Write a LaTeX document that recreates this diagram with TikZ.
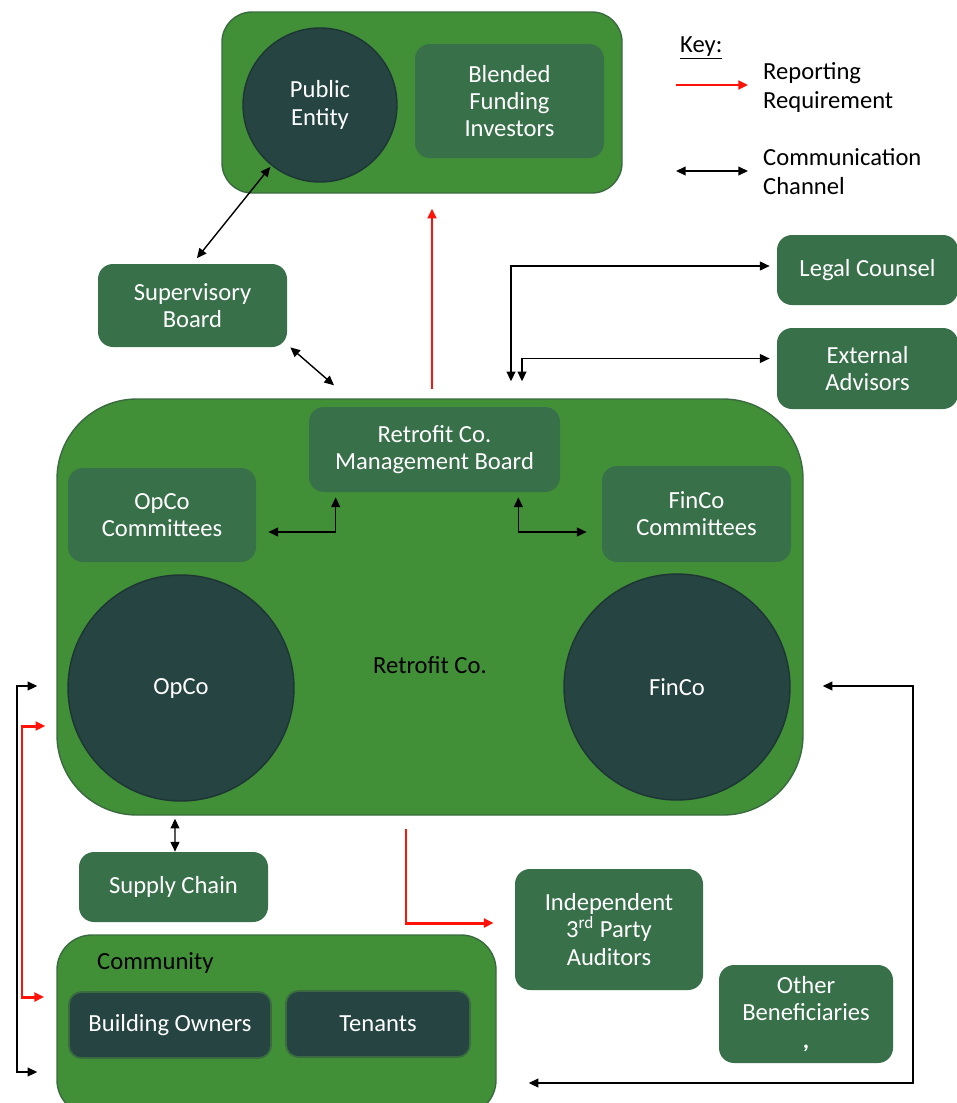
\documentclass[tikz,border=0pt]{standalone}
\usepackage{fontspec}
\setmainfont{Carlito}
\usetikzlibrary{arrows.meta,calc}
\definecolor{outergreen}{HTML}{418F37}
\definecolor{outerline}{HTML}{3A6B40}
\definecolor{boxgreen}{HTML}{38704A}
\definecolor{darkteal}{HTML}{254442}
\definecolor{darkline}{HTML}{1D3534}
\definecolor{keyred}{HTML}{FF1208}
\def\pxu{0.02cm}
\begin{document}
\begin{tikzpicture}[x=0.02cm,y=-0.02cm,
  lbl/.style={font=\fontsize{14}{15.5}\selectfont, align=center},
  container/.style={draw=outerline, line width=0.8pt, fill=outergreen, inner sep=0pt},
  gbox/.style={lbl, rounded corners=0.3cm, fill=boxgreen, text=white, inner sep=0pt},
  dbox/.style={lbl, rounded corners=0.25cm, fill=darkteal, draw=outerline, line width=1pt, text=white, inner sep=0pt},
  dcirc/.style={lbl, circle, fill=darkteal, draw=darkline, line width=0.8pt, text=white, inner sep=0pt},
  tipk/.tip={Triangle[length=5.5pt,width=5pt]},
  comm/.style={tipk-tipk, line width=0.8pt, black},
  rep/.style={-tipk, line width=1.7pt, keyred},
  repboth/.style={tipk-tipk, line width=1.7pt, keyred},
]
\useasboundingbox (0,0) rectangle (957,1103);

% --- top group: public entity and investors
\node[container, rounded corners=0.6cm, minimum width=400*\pxu, minimum height=181*\pxu] (top) at (422,102.5) {};
\node[dcirc, minimum size=154*\pxu] (pub) at (320,105) {Public\\Entity};
\node[gbox, minimum width=189*\pxu, minimum height=114*\pxu] (blend) at (509.5,101) {Blended\\Funding\\Investors};

% --- key
\node[anchor=west, font=\fontsize{14}{16.5}\selectfont] (keyt) at (674,48) {\underline{Key:}};
\coordinate (kr1) at (676,85);
\coordinate (kr2) at (748,85);
\coordinate (kc1) at (676,171);
\coordinate (kc2) at (748,171);
\draw[rep] (kr1) -- (kr2);
\draw[comm] (kc1) -- (kc2);
\node[anchor=west, align=left, font=\fontsize{14}{16.5}\selectfont] (keyrep) at (757,87) {Reporting\\Requirement};
\node[anchor=west, align=left, font=\fontsize{14}{16.5}\selectfont] (keycom) at (757,172) {Communication\\Channel};

% --- boards and advisors
\node[gbox, minimum width=189*\pxu, minimum height=83*\pxu] (sup) at (192.5,305.5) {Supervisory\\Board};
\node[gbox, minimum width=181*\pxu, minimum height=70*\pxu] (legal) at (867.5,270) {Legal Counsel};
\node[gbox, minimum width=181*\pxu, minimum height=81*\pxu] (ext) at (867.5,368.5) {External\\Advisors};

% --- Retrofit Co.
\node[container, rounded corners=1.6cm, minimum width=746*\pxu, minimum height=416*\pxu] (retro) at (430,607) {};
\node[gbox, minimum width=251*\pxu, minimum height=85*\pxu] (mgmt) at (434.5,449.5) {Retrofit Co.\\Management Board};
\node[gbox, minimum width=188*\pxu, minimum height=94*\pxu] (opcom) at (162,515) {OpCo\\Committees};
\node[gbox, minimum width=189*\pxu, minimum height=96*\pxu] (fincom) at (696.5,514) {FinCo\\Committees};
\node[dcirc, minimum size=226*\pxu] (opco) at (181,688) {OpCo};
\node[dcirc, minimum size=226*\pxu] (finco) at (677,687) {FinCo};
\node[lbl] (retrolbl) at (430,665) {Retrofit Co.};

% --- lower parties
\node[gbox, minimum width=189*\pxu, minimum height=70*\pxu] (supply) at (173.5,887) {Supply Chain};
\node[container, rounded corners=0.7cm, minimum width=439*\pxu, minimum height=180*\pxu] (community) at (276.5,1025) {};
\node[lbl, anchor=west] (commlbl) at (91,963) {Community};
\node[dbox, minimum width=202*\pxu, minimum height=66*\pxu] (owners) at (170,1025) {Building Owners};
\node[dbox, minimum width=184*\pxu, minimum height=66*\pxu] (tenants) at (378,1024) {Tenants};
\node[gbox, minimum width=188*\pxu, minimum height=121*\pxu] (auditors) at (609,929.5) {Independent\\3\textsuperscript{rd} Party\\Auditors};
\node[gbox, minimum width=174*\pxu, minimum height=98*\pxu] (other) at (806,1014) {Other\\Beneficiaries\\\textbf{,}};

% --- communication channels
\draw[comm, shorten <=4pt, shorten >=1pt] (sup.north) -- (pub);
\draw[comm] ($(sup.south east)+(3,0)$) -- ($(retro.north)+(-96,-13)$);
\draw[comm] ($(retro.north)+(81,-17)$) |- ($(legal.west)+(-7,-4)$);
\draw[comm] ($(retro.north)+(92,-17)$) |- ($(ext.west)+(-7,-10)$);
\draw[comm] ($(mgmt.south west)+(27,5)$) |- ($(opcom.east)+(12,17)$);
\draw[comm] ($(mgmt.south east)+(-42,5)$) |- ($(fincom.west)+(-15,18)$);
\draw[comm] ($(retro.south -| opco)+(-6,3)$) -- ($(supply.north)+(1.5,0)$);
\draw[comm] ($(retro.west |- opco)+(-19,-2)$) -- (17,686) -- (17,1072) -- ($(community.west)+(-19,47)$);
\draw[comm] ($(retro.east |- finco)+(19,-1)$) -- (913,686) -- (913,1083) -- ($(community.east)+(32,58)$);

% --- reporting requirements
\draw[rep] ($(retro.north)+(2,-9)$) -- ($(top.south)+(10,15)$);
\draw[repboth] ($(retro.west)+(-11,119)$) -- (22,726) -- (22,997) -- ($(owners.west)+(-24,-28)$);
\draw[rep] ($(retro.south)+(-24,13)$) |- ($(auditors.west)+(-21,-6.5)$);
\end{tikzpicture}
\end{document}
